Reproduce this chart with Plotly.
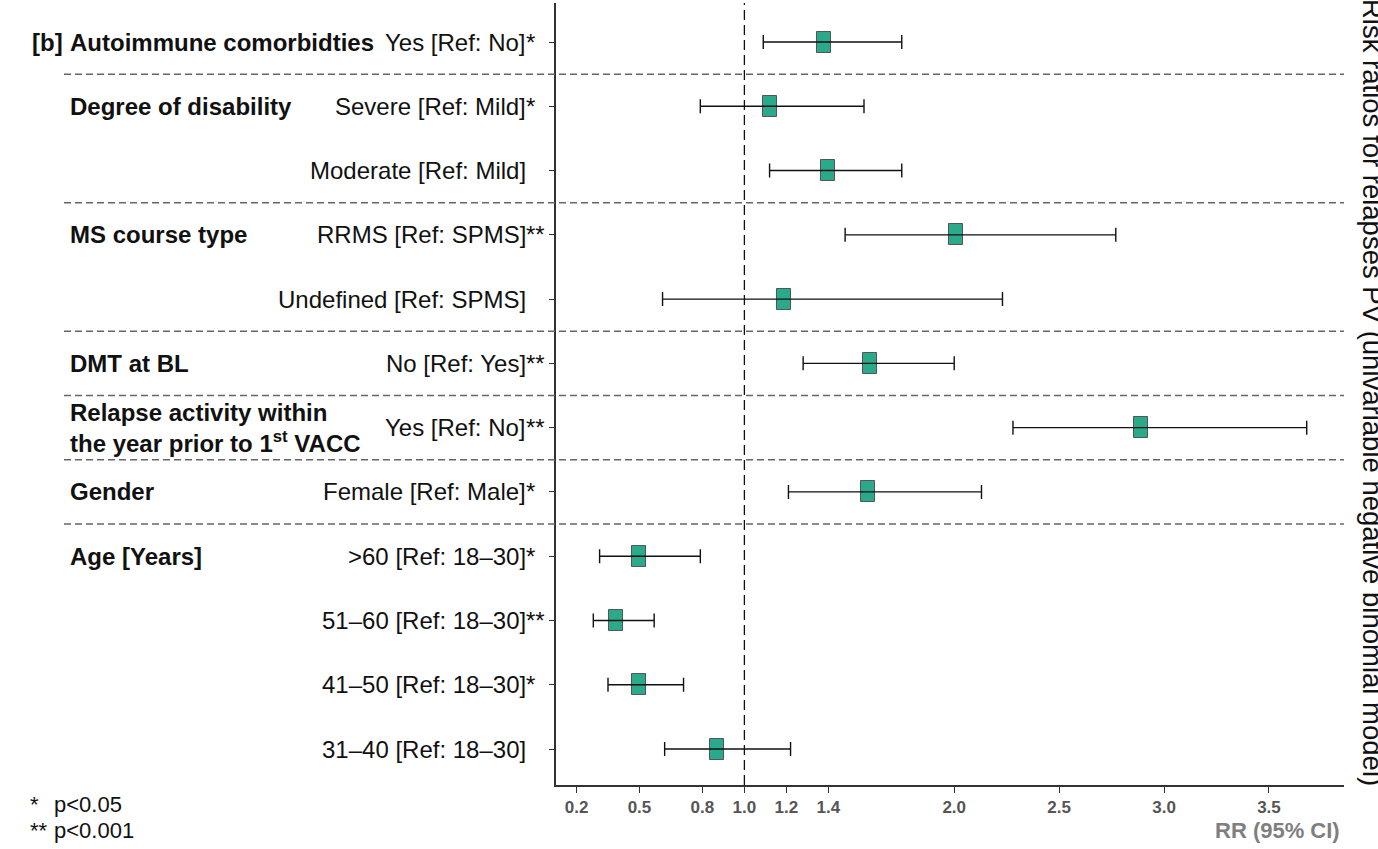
import plotly.graph_objects as go

# ---------------- data ----------------
panel_tag = "[b]"
groups = ["Autoimmune comorbidties", "Degree of disability", "MS course type",
          "DMT at BL", "Relapse activity within<br>the year prior to 1<sup>st</sup> VACC",
          "Gender", "Age [Years]"]
row_group = [0, 1, 1, 2, 2, 3, 4, 5, 6, 6, 6, 6]
row_labels = ["Yes [Ref: No]", "Severe [Ref: Mild]", "Moderate [Ref: Mild]",
              "RRMS [Ref: SPMS]", "Undefined [Ref: SPMS]", "No [Ref: Yes]",
              "Yes [Ref: No]", "Female [Ref: Male]", ">60 [Ref: 18–30]",
              "51–60 [Ref: 18–30]", "41–50 [Ref: 18–30]", "31–40 [Ref: 18–30]"]
row_stars = ["*", "*", "", "**", "", "**", "**", "*", "*", "**", "*", ""]
rr = [1.38, 1.12, 1.40, 2.01, 1.19, 1.60, 2.89, 1.59, 0.50, 0.39, 0.50, 0.87]
ci_lo = [1.09, 0.79, 1.12, 1.48, 0.61, 1.28, 2.28, 1.21, 0.31, 0.28, 0.35, 0.62]
ci_hi = [1.75, 1.57, 1.75, 2.77, 2.23, 2.00, 3.68, 2.13, 0.79, 0.57, 0.71, 1.22]
x_ticks = [0.2, 0.5, 0.8, 1.0, 1.2, 1.4, 2.0, 2.5, 3.0, 3.5]
x_title = "RR (95% CI)"
side_title = "Risk ratios for relapses PV (univariable negative binomial model)"
footnotes = [("*", "p<0.05"), ("**", "p<0.001")]
ref_line = 1.0

# ---------------- geometry / style ----------------
W, H = 1378, 849
L, R, T, B = 556, 1344, 3, 785
XR = [0.1022, 3.8576]
YR = [0.44, 12.607]
FONT = "Liberation Sans, Arial, sans-serif"
FILL = "#2aaa8a"

def xp(px):
    return (px - L) / (R - L)

def yp(py):
    return (B - py) / (B - T)

n = len(rr)
yv = [n - i for i in range(n)]
px_per_x = (R - L) / (XR[1] - XR[0])
px_per_y = (B - T) / (YR[1] - YR[0])
box_w = 14 / px_per_x
box_h = 21 / px_per_y

fig = go.Figure()

fig.add_trace(go.Bar(
    orientation="h", y=yv, x=[box_w] * n, base=[v - box_w / 2 for v in rr],
    width=box_h, marker=dict(color=FILL, line=dict(color="#555555", width=1)),
    hoverinfo="skip", showlegend=False))

fig.add_trace(go.Scatter(
    x=rr, y=yv, mode="markers", marker=dict(size=1, color="rgba(0,0,0,0)"),
    error_x=dict(type="data", symmetric=False,
                 array=[h - v for h, v in zip(ci_hi, rr)],
                 arrayminus=[v - l for v, l in zip(rr, ci_lo)],
                 color="#111111", thickness=1.4, width=7),
    showlegend=False, hoverinfo="skip"))

shapes = [dict(type="line", xref="x", yref="paper", x0=ref_line, x1=ref_line, y0=0, y1=1,
               line=dict(color="#111111", width=1.3, dash="10px,5px"))]
for i in range(1, n):
    if row_group[i] != row_group[i - 1]:
        ym = (yv[i] + yv[i - 1]) / 2
        shapes.append(dict(type="line", xref="paper", yref="y", x0=xp(64), x1=1,
                           y0=ym, y1=ym,
                           line=dict(color="#666666", width=1.5, dash="7px,4px")))

ann = []
# row labels and stars
for i in range(n):
    ann.append(dict(text=row_labels[i], x=xp(528), y=yv[i], xref="paper", yref="y",
                    xanchor="right", yanchor="middle", showarrow=False,
                    font=dict(family=FONT, size=24, color="#111111")))
    if row_stars[i]:
        ann.append(dict(text=row_stars[i], x=xp(524), y=yv[i], xref="paper", yref="y",
                        xanchor="left", yanchor="middle", showarrow=False,
                        font=dict(family=FONT, size=24, color="#111111")))
# group labels
for g, name in enumerate(groups):
    first = row_group.index(g)
    ann.append(dict(text="<b>" + name + "</b>", x=xp(68), y=yv[first], xref="paper", yref="y",
                    xanchor="left", yanchor="middle", align="left", showarrow=False,
                    font=dict(family=FONT, size=24, color="#111111")))
ann.append(dict(text="<b>" + panel_tag + "</b>", x=xp(30), y=yv[0], xref="paper", yref="y",
                xanchor="left", yanchor="middle", showarrow=False,
                font=dict(family=FONT, size=24, color="#111111")))
# footnotes
for k, (s, t) in enumerate(footnotes):
    py = 804 + 26 * k
    ann.append(dict(text=s, x=xp(28), y=yp(py), xref="paper", yref="paper",
                    xanchor="left", yanchor="middle", showarrow=False,
                    font=dict(family=FONT, size=22, color="#111111")))
    ann.append(dict(text=t, x=xp(52), y=yp(py), xref="paper", yref="paper",
                    xanchor="left", yanchor="middle", showarrow=False,
                    font=dict(family=FONT, size=22, color="#111111")))
# x title
ann.append(dict(text="<b>" + x_title + "</b>", x=xp(1342), y=yp(830), xref="paper", yref="paper",
                xanchor="right", yanchor="middle", showarrow=False,
                font=dict(family=FONT, size=22, color="#7f7f7f")))
# right side title (partly cut by the right edge, as in the reference)
ann.append(dict(text=side_title, x=xp(1372), y=yp(392), xref="paper", yref="paper",
                xanchor="center", yanchor="middle", textangle=90, showarrow=False,
                font=dict(family=FONT, size=27.5, color="#111111")))

fig.update_layout(
    width=W, height=H, margin=dict(l=L, r=W - R, t=T, b=H - B),
    plot_bgcolor="white", paper_bgcolor="white",
    shapes=shapes, annotations=ann, bargap=0,
    xaxis=dict(range=XR, tickvals=x_ticks, ticktext=[f"{v:.1f}" for v in x_ticks],
               showgrid=False, zeroline=False, showline=True, linecolor="#333333",
               linewidth=1.5, ticks="outside", ticklen=6, tickcolor="#333333",
               tickfont=dict(family="Liberation Sans Narrow, Arial Narrow, sans-serif",
                             size=17, color="#555555", weight="bold")),
    yaxis=dict(range=YR, tickvals=yv, showticklabels=False, showgrid=False, zeroline=False,
               showline=True, linecolor="#333333", linewidth=1.5, ticks="outside",
               ticklen=5, tickcolor="#333333"),
)

fig.write_html("out.html", config={"displayModeBar": False},
               post_script="document.body.style.margin='0';document.body.style.overflow='hidden';")
